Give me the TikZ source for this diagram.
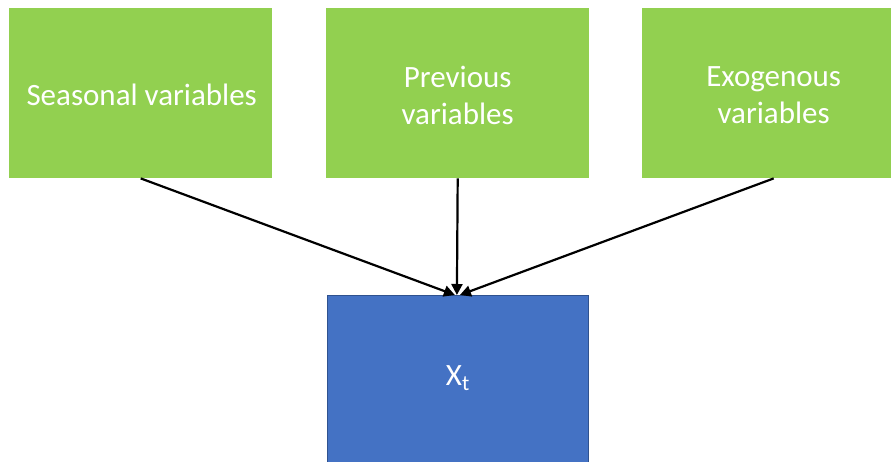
\documentclass[tikz,border=0pt]{standalone}
\usepackage{fontspec}
\setmainfont{Carlito}
\usetikzlibrary{arrows.meta,calc}
\definecolor{boxgreen}{HTML}{92D050}
\definecolor{boxblue}{HTML}{4472C4}
\definecolor{blueedge}{HTML}{2F528F}
\begin{document}
\begin{tikzpicture}[x=1pt,y=-1pt,
  greenbox/.style={rectangle,fill=boxgreen,draw=none,minimum width=263pt,minimum height=170pt,inner sep=0pt,
    text=white,font=\fontsize{31}{37}\selectfont,align=center,anchor=north west},
  bluebox/.style={rectangle,fill=boxblue,draw=blueedge,line width=0.8pt,minimum width=261pt,minimum height=190pt,inner sep=0pt,
    text=white,font=\fontsize{31}{37}\selectfont,align=center,anchor=north west},
  lbl/.style={text=white,font=\fontsize{31}{37}\selectfont,align=center,inner sep=0pt},
  conn/.style={draw=black,line width=2.2pt,-{Triangle[length=11pt,width=11pt]}}]
\useasboundingbox (0,0) rectangle (891,461);
\clip (0,0) rectangle (891,461);
\fill[white] (0,0) rectangle (891,461);
\node[greenbox] (seas) at (9,8) {};
\node[greenbox] (prev) at (326,8) {};
\node[greenbox] (exo) at (642,8) {};
\node[bluebox] (xt) at (327,295) {};
\node[lbl] (seast) at ($(seas.center)+(1,2)$) {Seasonal variables};
\node[lbl] (prevt) at ($(prev.center)+(0,2)$) {Previous\\variables};
\node[lbl] (exot) at ($(exo.center)+(0,2)$) {Exogenous\\variables};
\node[lbl] (xtt) at ($(xt.north)+(0,83)$) {X\textsubscript{t}};
\coordinate (tl) at ($(xt.north)+(-3,0)$);
\coordinate (tm) at ($(xt.north)+(-1,0)$);
\coordinate (tr) at ($(xt.north)+(2,0)$);
\draw[conn] (seas.south) -- (tl);
\draw[conn] (prev.south) -- (tm);
\draw[conn] (exo.south) -- (tr);
\end{tikzpicture}
\end{document}
